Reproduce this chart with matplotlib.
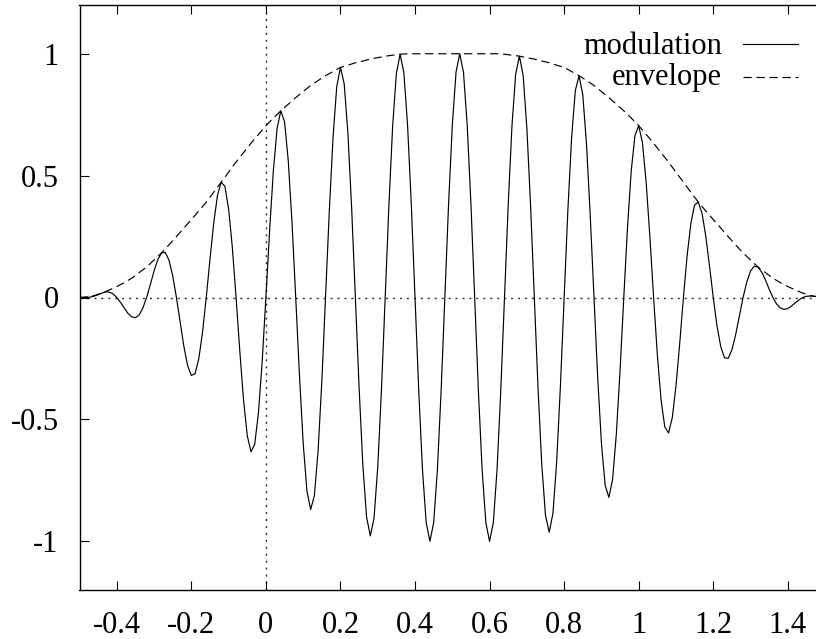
import numpy as np
import matplotlib
matplotlib.use("Agg")
import matplotlib.pyplot as plt
from matplotlib.lines import Line2D

# ---------------- data ----------------
mod_x = [round(-0.5 + 0.01 * k, 2) for k in range(201)]
mod_y = [
    0.000, 0.000, 0.000, 0.002, 0.006, 0.012, 0.018, 0.023, 0.022, 0.015,
    0.000, -0.020, -0.043, -0.065, -0.079, -0.083, -0.072, -0.043, 0.000, 0.053,
    0.109, 0.155, 0.183, 0.185, 0.153, 0.089, 0.000, -0.102, -0.201, -0.279,
    -0.320, -0.312, -0.251, -0.143, 0.000, 0.157, 0.305, 0.418, 0.473, 0.456,
    0.363, 0.205, 0.000, -0.220, -0.420, -0.567, -0.633, -0.602, -0.473, -0.263,
    0.000, 0.276, 0.520, 0.694, 0.766, 0.721, 0.561, 0.309, 0.000, -0.319,
    -0.597, -0.793, -0.870, -0.813, -0.629, -0.345, 0.000, 0.352, 0.655, 0.865,
    0.944, 0.877, 0.674, 0.367, 0.000, -0.370, -0.686, -0.900, -0.978, -0.906,
    -0.696, -0.378, 0.000, 0.380, 0.703, 0.920, 0.998, 0.923, 0.707, 0.383,
    0.000, -0.383, -0.707, -0.924, -1.000, -0.924, -0.707, -0.383, 0.000, 0.383,
    0.707, 0.924, 1.000, 0.924, 0.707, 0.383, 0.000, -0.383, -0.707, -0.924,
    -1.000, -0.924, -0.707, -0.383, 0.000, 0.381, 0.703, 0.917, 0.990, 0.912,
    0.696, 0.376, 0.000, -0.373, -0.686, -0.894, -0.963, -0.885, -0.674, -0.363,
    0.000, 0.358, 0.655, 0.849, 0.910, 0.832, 0.629, 0.337, 0.000, -0.329,
    -0.597, -0.770, -0.820, -0.746, -0.561, -0.299, 0.000, 0.288, 0.520, 0.665,
    0.705, 0.635, 0.473, 0.249, 0.000, -0.235, -0.420, -0.531, -0.556, -0.494,
    -0.363, -0.189, 0.000, 0.173, 0.305, 0.380, 0.391, 0.345, 0.251, 0.129,
    0.000, -0.116, -0.201, -0.247, -0.250, -0.215, -0.153, -0.077, 0.000, 0.064,
    0.109, 0.128, 0.125, 0.104, 0.072, 0.034, 0.000, -0.027, -0.043, -0.049,
    -0.045, -0.035, -0.022, -0.010, 0.000, 0.005, 0.006, 0.005, 0.003, 0.001,
    0.000,
]

env_x = [round(-0.5 + 0.02 * i, 2) for i in range(101)]
env_y = [
    0.000, 0.003, 0.008, 0.018, 0.031, 0.045, 0.061, 0.079, 0.102, 0.125,
    0.154, 0.183, 0.216, 0.250, 0.285, 0.320, 0.355, 0.391, 0.432, 0.473,
    0.514, 0.556, 0.594, 0.633, 0.669, 0.705, 0.736, 0.766, 0.793, 0.820,
    0.845, 0.870, 0.890, 0.910, 0.927, 0.944, 0.953, 0.963, 0.970, 0.978,
    0.984, 0.990, 0.994, 0.998, 1.000, 1.000, 1.000, 1.000, 1.000, 1.000,
    1.000, 1.000, 1.000, 1.000, 1.000, 1.000, 1.000, 0.998, 0.994, 0.990,
    0.984, 0.978, 0.970, 0.963, 0.953, 0.944, 0.927, 0.910, 0.890, 0.870,
    0.845, 0.820, 0.793, 0.766, 0.736, 0.705, 0.669, 0.633, 0.594, 0.556,
    0.514, 0.473, 0.432, 0.391, 0.355, 0.320, 0.285, 0.250, 0.216, 0.183,
    0.154, 0.125, 0.102, 0.079, 0.061, 0.045, 0.031, 0.018, 0.008, 0.003,
    0.000,
]

x_ticks = [-0.4, -0.2, 0, 0.2, 0.4, 0.6, 0.8, 1, 1.2, 1.4]
x_tick_labels = ["-0.4", "-0.2", "0", "0.2", "0.4", "0.6", "0.8", "1", "1.2", "1.4"]
y_ticks = [-1, -0.5, 0, 0.5, 1]
y_tick_labels = ["-1", "-0.5", "0", "0.5", "1"]
series_names = ["modulation", "envelope"]

# ---------------- figure ----------------
plt.rcParams['font.family'] = ['Liberation Serif', 'DejaVu Serif']
plt.rcParams['axes.unicode_minus'] = False

fig = plt.figure(figsize=(8.16, 6.39), dpi=100)
W, H = 816, 639
left_px, right_px, top_px, bot_px = 79.5, 825.1, 5.0, 590.0
ax = fig.add_axes([left_px / W, (H - bot_px) / H,
                   (right_px - left_px) / W, (bot_px - top_px) / H])
ax.set_xlim(-0.5, 1.5)
ax.set_ylim(-1.2, 1.2)

dot = (0, (1.5, 3.5))
ax.axhline(0, color='#333333', lw=1.0, linestyle=dot, zorder=1)
ax.axvline(0, color='#333333', lw=1.0, linestyle=dot, zorder=1)

dash = (0, (7, 4))
ax.plot(mod_x, mod_y, color='black', lw=0.85, zorder=3)
ax.plot(env_x, env_y, color='black', lw=0.85, linestyle=dash, zorder=3)

ax.set_xticks(x_ticks)
ax.set_xticklabels(x_tick_labels)
ax.set_yticks(y_ticks)
ax.set_yticklabels(y_tick_labels)
ax.tick_params(axis='both', direction='in', length=6.5, width=0.8,
               labelsize=22, top=True, right=False, colors='black')
ax.tick_params(axis='x', pad=15)
ax.tick_params(axis='y', pad=15)
for s in ['left', 'bottom', 'top', 'right']:
    ax.spines[s].set_linewidth(1.0)
    ax.spines[s].set_color('black')

# gnuplot-style key: right-aligned text then line sample
def ax_frac_x(px):
    return (px - left_px) / (right_px - left_px)

def ax_frac_y(py):
    return (bot_px - py) / (bot_px - top_px)

key_rows = [(series_names[0], '-', 54.5, 44.3), (series_names[1], dash, 84.5, 76.7)]
for name, ls, base_py, line_py in key_rows:
    ax.text(ax_frac_x(722), ax_frac_y(base_py), name, transform=ax.transAxes,
            ha='right', va='baseline', fontsize=22)
    ax.add_line(Line2D([ax_frac_x(743), ax_frac_x(798)],
                       [ax_frac_y(line_py), ax_frac_y(line_py)],
                       transform=ax.transAxes, color='black', lw=0.85,
                       linestyle=ls))

fig.savefig('out.png', dpi=100)
